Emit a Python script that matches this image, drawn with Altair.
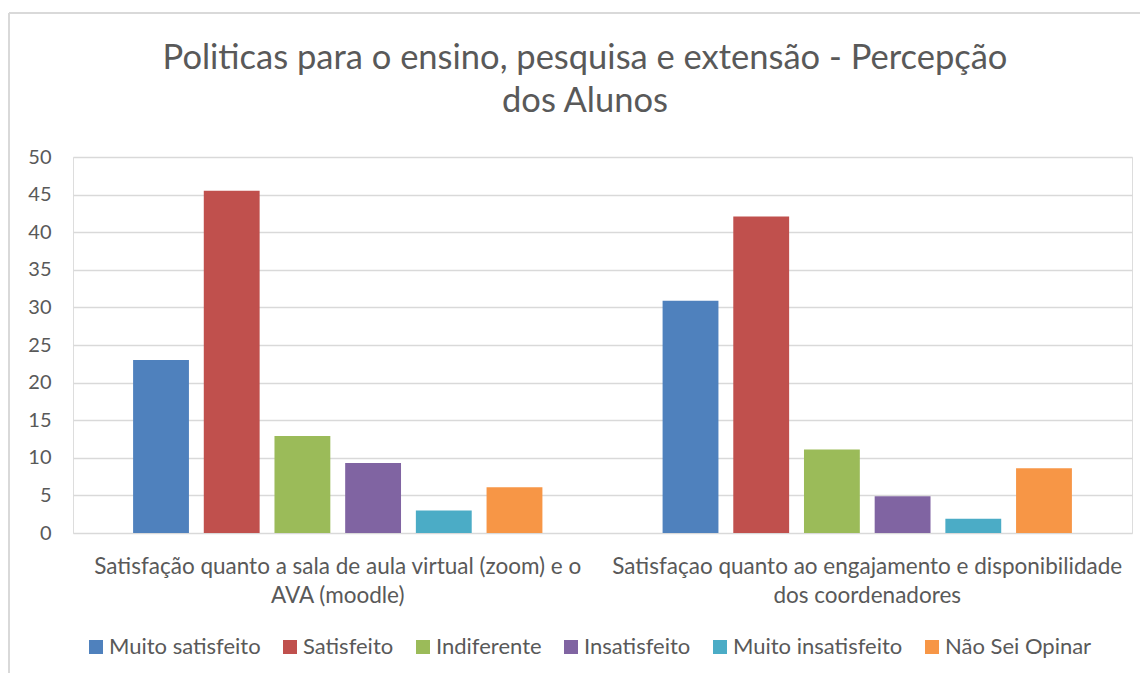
import altair as alt
import pandas as pd

CATEGORIES = [
    "Satisfação quanto a sala de aula virtual (zoom) e o AVA (moodle)",
    "Satisfaçao quanto ao engajamento e disponibilidade dos coordenadores",
]
CATEGORY_LINES = [
    ["Satisfação quanto a sala de aula virtual (zoom) e o", "AVA (moodle)"],
    ["Satisfaçao quanto ao engajamento e disponibilidade", "dos coordenadores"],
]
SERIES = ["Muito satisfeito", "Satisfeito", "Indiferente", "Insatisfeito",
          "Muito insatisfeito", "Não Sei Opinar"]
COLORS = ["#4F81BD", "#C0504D", "#9BBB59", "#8064A2", "#4BACC6", "#F79646"]
VALUES_1 = [23.0, 45.5, 12.9, 9.3, 3.0, 6.1]
VALUES_2 = [30.9, 42.1, 11.1, 4.9, 1.9, 8.6]
TITLE_LINES = ["Politicas para o ensino, pesquisa e extensão - Percepção", "dos Alunos"]

rows = []
for cat, vals in zip(CATEGORIES, [VALUES_1, VALUES_2]):
    for s, v in zip(SERIES, vals):
        rows.append({"Categoria": cat, "Série": s, "Valor": v})
df = pd.DataFrame(rows)

label_expr = " : ".join(
    f"datum.value == '{c}' ? {lines!r}" for c, lines in zip(CATEGORIES, CATEGORY_LINES)
) + " : datum.label"

FONT = "Lato"
GREY = "#595959"

bars = alt.Chart(df).mark_bar().encode(
    x=alt.X("Categoria:N", sort=CATEGORIES,
            scale=alt.Scale(paddingInner=0, paddingOuter=0),
            axis=alt.Axis(title=None, labelAngle=0, ticks=False, domain=False,
                          labelExpr=label_expr, labelFontSize=22.5, labelFont=FONT,
                          labelColor=GREY, labelPadding=22, labelLineHeight=29,
                          labelLimit=600)),
    xOffset=alt.XOffset("Série:N", sort=SERIES,
                        scale=alt.Scale(paddingInner=0.21, paddingOuter=0.85)),
    y=alt.Y("Valor:Q", scale=alt.Scale(domain=[0, 50], nice=False),
            axis=alt.Axis(title=None, values=list(range(0, 51, 5)), ticks=False,
                          domain=False, gridColor="#D9D9D9", gridWidth=1.5,
                          labelFontSize=20, labelFont=FONT, labelColor=GREY,
                          labelPadding=22)),
    color=alt.Color("Série:N", sort=SERIES,
                    scale=alt.Scale(domain=SERIES, range=COLORS),
                    legend=alt.Legend(title=None, orient="none", direction="horizontal",
                                      legendX=12, legendY=479, symbolType="square",
                                      symbolSize=196, symbolStrokeWidth=0,
                                      labelFontSize=22, labelFont=FONT, labelColor=GREY,
                                      labelOffset=2, columnPadding=18, labelLimit=400)),
)

frame_left = alt.Chart(df).mark_rule(color="#D9D9D9", strokeWidth=1.5).encode(
    x=alt.value(-64), y=alt.value(-144), y2=alt.value(530))
frame_top = alt.Chart(df).mark_rule(color="#D9D9D9", strokeWidth=1.5).encode(
    x=alt.value(-64), x2=alt.value(1070), y=alt.value(-144))

chart = alt.layer(frame_left, frame_top, bars).properties(
    width=1059, height=376,
    autosize=alt.AutoSizeParams(type="none"),
    padding={"left": 65, "top": 149, "right": 8, "bottom": 140},
    title=alt.TitleParams(
        TITLE_LINES,
        fontSize=34.5, font=FONT, color=GREY, fontWeight="normal",
        anchor="middle", dx=-17.5, offset=-107, lineHeight=43),
).configure_view(stroke=None).configure(background="white")

chart.save("out.html", embed_options={"renderer": "svg", "actions": False})
